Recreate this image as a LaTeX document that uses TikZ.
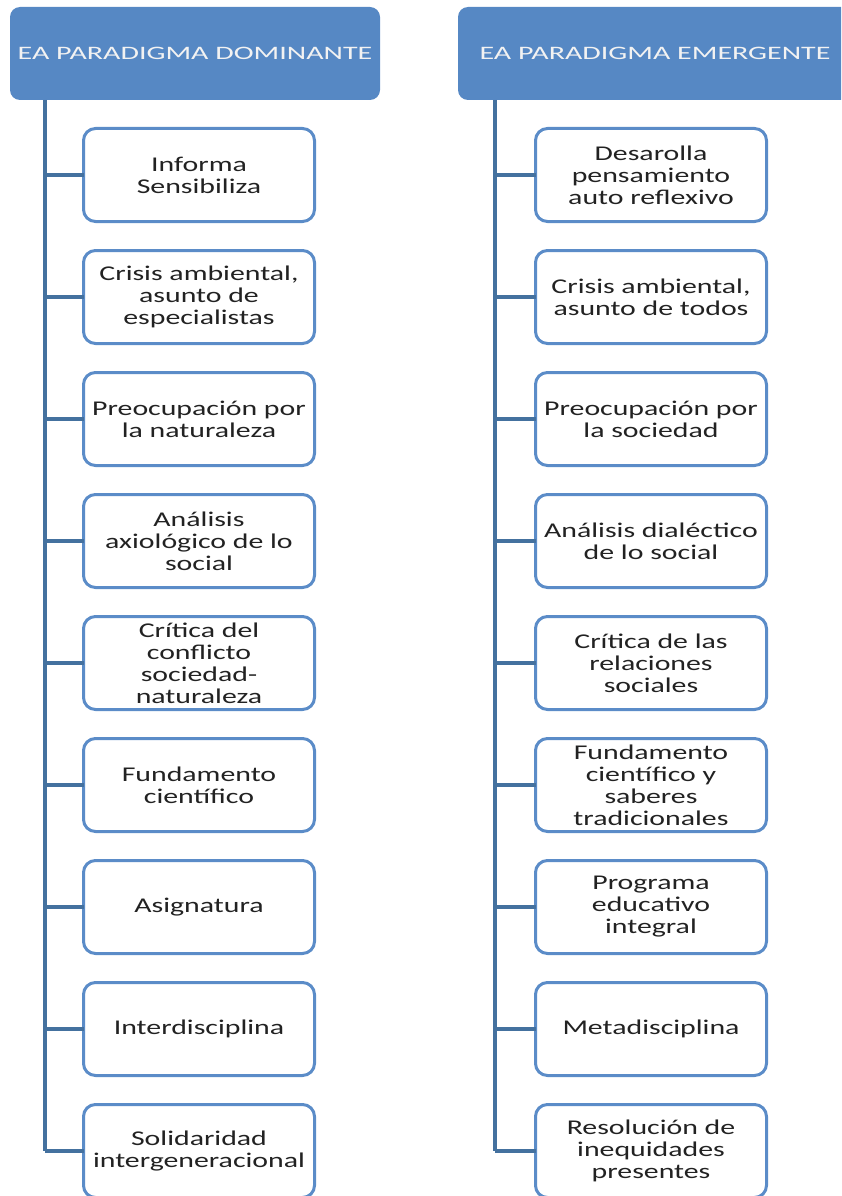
\documentclass[tikz,border=0pt]{standalone}
\usepackage{fontspec}
\setmainfont{Carlito}[FakeStretch=1.42]
\newfontfamily\hfont{Carlito}[FakeStretch=1.58]
\definecolor{hdr}{HTML}{5688C4}
\definecolor{boxc}{HTML}{5B8CC8}
\definecolor{trunkc}{HTML}{44719F}
\definecolor{txt}{HTML}{222222}
\definecolor{htxt}{HTML}{F2F2F2}
\tikzset{
  hdrbox/.style={fill=hdr, draw=none, rounded corners=10, minimum height=93,
    inner sep=0, outer sep=0, text=htxt, font=\hfont\fontsize{19}{21}\selectfont},
  itembox/.style={draw=boxc, line width=3, rounded corners=12, fill=white,
    minimum width=231, minimum height=93, inner sep=0, outer sep=0,
    align=center, text=txt, font=\fontsize{21}{22}\selectfont},
  trunk/.style={draw=trunkc, line width=4.5},
  conn/.style={draw=trunkc, line width=3.5}
}
\begin{document}
\begin{tikzpicture}[x=1pt,y=-1pt]
\useasboundingbox (0,0) rectangle (841,1196);
\clip (0,0) rectangle (841,1196);
% headers
\node[hdrbox, minimum width=370] (hL) at (195,53.5) {EA PARADIGMA DOMINANTE};
\node[hdrbox, minimum width=394] (hR) at (655,53.5) {EA PARADIGMA EMERGENTE};
% left items
\node[itembox] (L1) at (199,175) {Informa\\Sensibiliza};
\node[itembox] (L2) at (199,297) {Crisis ambiental,\\asunto de\\especialistas};
\node[itembox] (L3) at (199,419) {Preocupación por\\la naturaleza};
\node[itembox] (L4) at (199,541) {Análisis\\axiológico de lo\\social};
\node[itembox] (L5) at (199,663) {Crítica del\\conflicto\\sociedad-\\naturaleza};
\node[itembox] (L6) at (199,785) {Fundamento\\científico};
\node[itembox] (L7) at (199,907) {Asignatura};
\node[itembox] (L8) at (199,1029) {Interdisciplina};
\node[itembox] (L9) at (199,1151) {Solidaridad\\intergeneracional};
% right items
\node[itembox] (R1) at (651,175) {Desarolla\\pensamiento\\auto reflexivo};
\node[itembox] (R2) at (651,297) {Crisis ambiental,\\asunto de todos};
\node[itembox] (R3) at (651,419) {Preocupación por\\la sociedad};
\node[itembox] (R4) at (651,541) {Análisis dialéctico\\de lo social};
\node[itembox] (R5) at (651,663) {Crítica de las\\relaciones\\sociales};
\node[itembox] (R6) at (651,785) {Fundamento\\científico y\\saberes\\tradicionales};
\node[itembox] (R7) at (651,907) {Programa\\educativo\\integral};
\node[itembox] (R8) at (651,1029) {Metadisciplina};
\node[itembox] (R9) at (651,1151) {Resolución de\\inequidades\\presentes};
% trunks
\coordinate (tL) at (45,100);
\coordinate (tR) at (495,100);
\draw[trunk] (tL) -- (tL |- L9.west);
\draw[trunk] (tR) -- (tR |- R9.west);
\foreach \i in {1,...,9}{
  \draw[conn] (tL |- L\i.west) -- (L\i.west);
  \draw[conn] (tR |- R\i.west) -- (R\i.west);
}
\end{tikzpicture}
\end{document}
